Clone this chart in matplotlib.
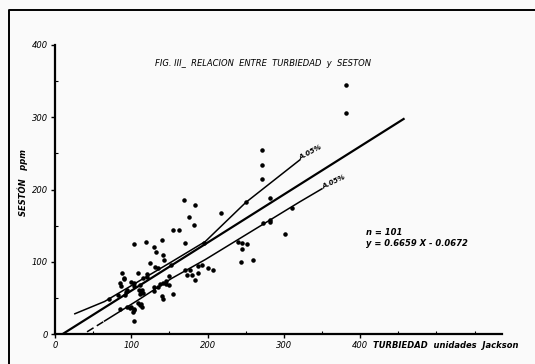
import matplotlib
matplotlib.use("Agg")
import matplotlib.pyplot as plt
from matplotlib.ticker import MultipleLocator

# turbidity (Jackson units) vs seston (ppm)
turbiedad = [381, 382, 272, 272, 272, 282, 250, 311, 217, 169, 183, 176, 182, 155, 163,
             273, 282, 282, 302, 240, 245, 252, 245, 244, 259, 170, 195,
             170, 177, 173, 179, 183, 188, 193, 201, 207,
             103, 119, 140, 130, 132, 141, 143, 152, 125, 131, 135,
             88, 90, 91, 109, 99, 104, 116, 120,
             86, 95, 93, 111, 110, 116, 130, 137, 142, 149, 130,
             140, 141, 155, 71, 82, 95, 85, 100, 103, 111, 113, 114, 102, 104, 149, 146,
             114, 112, 109, 120, 85, 92, 103, 98, 103, 113, 135, 146, 188]
seston = [345, 306, 254, 234, 215, 188, 183, 174, 168, 185, 179, 162, 151, 144, 144,
          154, 158, 155, 139, 128, 126, 125, 118, 99, 102, 126, 126,
          88, 88, 81, 81, 75, 94, 95, 92, 89,
          124, 128, 130, 120, 114, 109, 103, 95, 98, 93, 91,
          84, 78, 76, 85, 72, 70, 77, 79,
          67, 61, 58, 68, 61, 57, 65, 69, 70, 68, 60,
          53, 48, 55, 48, 54, 38, 35, 38, 35, 40, 42, 38, 31, 18, 80, 69,
          61, 56, 43, 83, 70, 54, 66, 36, 33, 58, 65, 73, 84]

# regression  y = 0.6659 X - 0.0672 (drawn in plot units)
pendiente = 0.6659
ordenada = -6.72
recta_x = [10, 457]

# 5% confidence curves as drawn
sup_x = [26, 65, 105, 153, 197, 250, 321]
sup_y = [28, 45, 70, 100, 128, 182, 241]
inf_x = [42, 65, 109, 153, 197, 321, 350]
inf_y = [3, 18, 47, 77, 103, 183, 201]

fig = plt.figure(figsize=(5.35, 3.64), dpi=100)
fig.patch.set_facecolor('#fafafa')
ax = fig.add_axes([55/535, 1 - 334/364, 447/535, 289/364])
ax.set_facecolor('none')

ax.scatter(turbiedad, seston, s=5, color='black', zorder=3)

recta_y = [pendiente * x + ordenada for x in recta_x]
ax.plot(recta_x, recta_y, color='black', lw=1.6)
ax.plot(sup_x, sup_y, color='black', lw=1.1)
ax.plot(inf_x[:2], inf_y[:2], color='black', lw=1.1, ls=(0, (5, 2.5)))
ax.plot(inf_x[1:], inf_y[1:], color='black', lw=1.1)

txt = dict(color='black', style='italic', fontfamily='DejaVu Sans')
ax.text(sup_x[-1] + 2, sup_y[-1] - 1, 'A.05%', fontsize=5, weight='bold',
        rotation=28, ha='left', va='bottom', rotation_mode='anchor', **txt)
ax.text(inf_x[-1] + 2, inf_y[-1] - 1, 'A.05%', fontsize=5, weight='bold',
        rotation=25, ha='left', va='bottom', rotation_mode='anchor', **txt)

ax.set_xlim(0, 586)
ax.set_ylim(0, 400)
for s in ['top', 'right']:
    ax.spines[s].set_visible(False)
for s in ['left', 'bottom']:
    ax.spines[s].set_linewidth(1.6)

ax.set_xticks([0, 100, 200, 300, 400])
ax.set_yticks([0, 100, 200, 300, 400])
ax.xaxis.set_minor_locator(MultipleLocator(50))
ax.yaxis.set_minor_locator(MultipleLocator(50))
ax.tick_params(which='major', length=3, width=1, direction='out', pad=2, labelsize=6)
ax.tick_params(which='minor', length=2, width=0.8, direction='in')
for lab in ax.get_xticklabels() + ax.get_yticklabels():
    lab.set_fontstyle('italic')

fig.text(263/535, 1 - 63/364, 'FIG. III_  RELACION  ENTRE  TURBIEDAD  y  SESTON',
         fontsize=6, ha='center', va='center', **txt)
fig.text(373/535, 1 - 345/364, 'TURBIEDAD  unidades  Jackson', fontsize=6,
         weight='bold', ha='left', va='center', **txt)
fig.text(23/535, 1 - 182/364, 'SESTÓN   ppm', fontsize=6, weight='bold',
         rotation=90, ha='center', va='center', **txt)
fig.text(366/535, 1 - 233/364, 'n = 101', fontsize=6, weight='bold',
         ha='left', va='center', **txt)
fig.text(366/535, 1 - 244/364, 'y = 0.6659 X - 0.0672', fontsize=6, weight='bold',
         ha='left', va='center', **txt)

# frame of the scanned page
fig.add_artist(plt.Line2D([9/535, 9/535, 1.0], [0.0, 1 - 10/364, 1 - 10/364],
                          transform=fig.transFigure, color='black', lw=1.4))

fig.savefig('out.png', dpi=100, facecolor=fig.get_facecolor())
